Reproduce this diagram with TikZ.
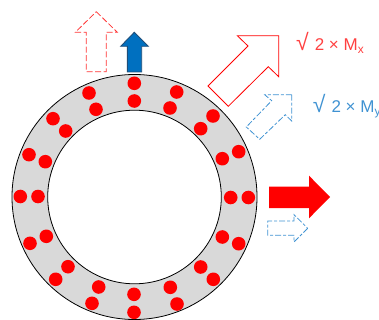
\documentclass[tikz,border=0pt]{standalone}
\usepackage{xcolor}
\usepackage{fontspec}
\setmainfont{Liberation Sans}
\definecolor{kred}{HTML}{FF0000}
\definecolor{kblue}{HTML}{0070C0}
\definecolor{kdash}{HTML}{3F92D2}
\definecolor{kring}{HTML}{D9D9D9}
\definecolor{kedge}{HTML}{1F4E79}
\newcommand{\rootsign}{{\fontsize{23}{23}\selectfont\symbol{"221A}}\hspace{6pt}}
\tikzset{
  dot/.style={fill=kred, draw=none},
  redoutline/.style={draw=kred, line width=0.8pt, line join=miter, fill=white},
  reddash/.style={draw=kred!80, line width=0.8pt, dash pattern=on 6pt off 2.5pt},
  bluedash/.style={draw=kdash, line width=0.8pt, dash pattern=on 6pt off 2pt on 3pt off 2pt},
  gain/.style={font=\fontsize{17}{19}\selectfont, anchor=base west, inner sep=0pt}
}
\begin{document}
\begin{tikzpicture}[x=1pt, y=-1pt]
\useasboundingbox (0,0) rectangle (379,320);
% ring
\fill[kring, even odd rule] (134.5,197) circle[radius=122.5] (134.5,197) circle[radius=86.8];
\draw[black, line width=0.8pt] (134.5,197) circle[radius=122.5];
\draw[black, line width=0.8pt] (134.5,197) circle[radius=86.8];
% conductors
\foreach \dx/\dy in {134.3/83.3, 134.3/101, 89/93, 96/109.3, 53/118.7, 65.7/131, 29/154.7, 45.3/161.7,
  20.3/196.5, 38/196.5, 30/243.3, 46.3/236.3, 55.7/279.3, 68/266.7, 92/303.3, 98.7/287,
  134/294.3, 134/312.3, 170.3/287.3, 177/304, 200.7/267, 213.3/279.3, 222.3/237, 238.7/243.7,
  230.7/197.5, 248.3/197.5, 176.7/92, 170/108, 213/116, 200.7/128.7, 238.7/151.7, 222.3/158.7}
  \fill[dot] (\dx,\dy) circle[radius=6.8];
% up arrows
\draw[reddash] (96.3,11.7) -- (117.3,32.3) -- (106.3,32.3) -- (106.3,71.7) -- (86.3,71.7) -- (86.3,32.3) -- (75.3,32.3) -- cycle;
\draw[fill=kblue, draw=kedge, line width=0.9pt] (134.3,32.3) -- (148.3,46.3) -- (141.7,46.3) -- (141.7,72) -- (127.3,72) -- (127.3,46.3) -- (120.7,46.3) -- cycle;
% diagonal arrows
\draw[redoutline] (278.7,35.7) -- (278.7,76.7) -- (268.3,66.7) -- (228.3,106.3) -- (208,86) -- (248,46) -- (237.3,35.7) -- cycle;
\draw[bluedash] (291.7,94.7) -- (291.7,121) -- (285.3,114.7) -- (259.7,139.3) -- (246.3,127) -- (271.7,100.7) -- (264.7,94.7) -- cycle;
% right arrows
\fill[kred] (330,197) -- (309,218.3) -- (309,208) -- (269,208) -- (269,186.7) -- (309,186.7) -- (309,175.7) -- cycle;
\draw[bluedash] (307.7,228.3) -- (294,242) -- (294,235.3) -- (267.7,235.3) -- (267.7,221) -- (294,221) -- (294,214.7) -- cycle;
% labels
\node[gain, text=kred!75] (gainx) at (296,51) {\rootsign 2 × M\textsubscript{x}};
\node[gain, text=kdash] (gainy) at (312.7,112.7) {\rootsign 2 × M\textsubscript{y}};
\end{tikzpicture}
\end{document}
